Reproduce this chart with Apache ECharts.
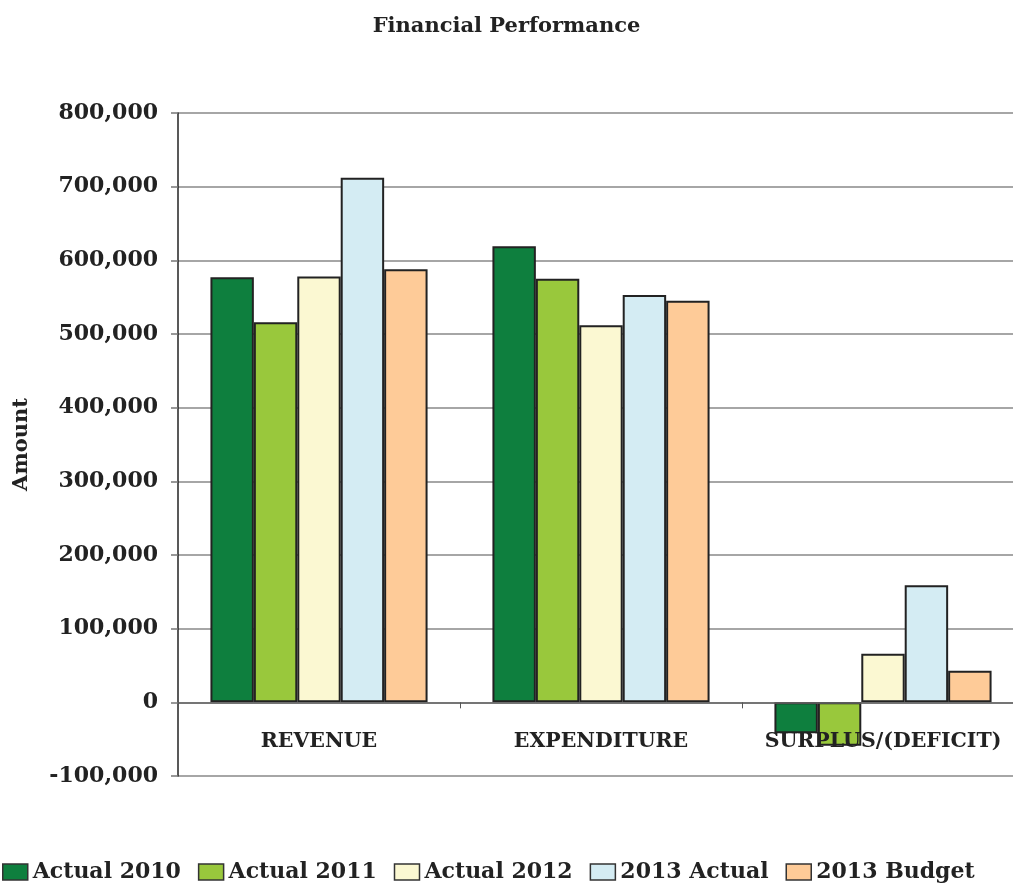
<!DOCTYPE html>
<html><head><meta charset="utf-8">
<script src="https://cdn.jsdelivr.net/npm/echarts@6/dist/echarts.min.js"></script>
<style>html,body{margin:0;padding:0;background:#fff}#c{width:1013px;height:886px}</style>
</head><body><div id="c"></div>
<script>
const categories = ['REVENUE', 'EXPENDITURE', 'SURPLUS/(DEFICIT)'];
const seriesNames = ['Actual 2010', 'Actual 2011', 'Actual 2012', '2013 Actual', '2013 Budget'];
const actual2010 = [577000, 619000, -42000];
const actual2011 = [516000, 575000, -59000];
const actual2012 = [578000, 512000, 66000];
const actual2013 = [712000, 553000, 159000];
const budget2013 = [588000, 545000, 43000];
const yTicks = { min: -100000, max: 800000, interval: 100000 };

const colors = ['#0e7f3e', '#99c83c', '#fbf8d2', '#d4ecf3', '#fecb98'];
const dataSets = [actual2010, actual2011, actual2012, actual2013, budget2013];
const font = 'DejaVu Serif';

const chart = echarts.init(document.getElementById('c'));
chart.setOption({
  animation: false,
  title: {
    text: 'Financial Performance', left: 'center', top: 11,
    textStyle: { fontFamily: font, fontWeight: 'bold', fontSize: 21, color: '#222' }
  },
  legend: {
    bottom: 3, left: 2, padding: 0, itemWidth: 25, itemHeight: 16, itemGap: 17,
    icon: 'rect',
    itemStyle: { borderColor: '#333', borderWidth: 1.5 },
    textStyle: { fontFamily: font, fontWeight: 'bold', fontSize: 22, color: '#222', padding: [0,0,0,0] },
    data: seriesNames
  },
  grid: { left: 178, right: -11, top: 113, bottom: 110, containLabel: false, outerBoundsMode: 'none' },
  xAxis: {
    type: 'category', data: categories, z: 10,
    axisLine: { onZero: true, lineStyle: { color: '#666', width: 1.5 } },
    axisTick: { show: true, length: 6, lineStyle: { color: '#555' } },
    axisLabel: { interval: 0, margin: -45, fontFamily: font, fontWeight: 'bold', fontSize: 20.5, color: '#222' }
  },
  yAxis: {
    type: 'value', min: yTicks.min, max: yTicks.max, interval: yTicks.interval,
    name: 'Amount', nameLocation: 'middle', nameRotate: 90, nameGap: 146,
    nameTextStyle: { fontFamily: font, fontWeight: 'bold', fontSize: 21, color: '#222' },
    axisLine: { show: true, lineStyle: { color: '#222', width: 1.5 } },
    axisTick: { show: true, length: 7, lineStyle: { color: '#777', width: 1.5 } },
    axisLabel: {
      margin: 20, fontFamily: font, fontWeight: 'bold', fontSize: 22, color: '#222',
      formatter: v => v.toLocaleString('en-US')
    },
    splitLine: { lineStyle: { color: '#888', width: 1.5 } }
  },
  series: dataSets.map((d, i) => ({
    name: seriesNames[i], type: 'bar', data: d,
    barGap: '0%', barCategoryGap: '23%',
    itemStyle: { color: colors[i], borderColor: '#222', borderWidth: 2 }
  }))
});
</script></body></html>
